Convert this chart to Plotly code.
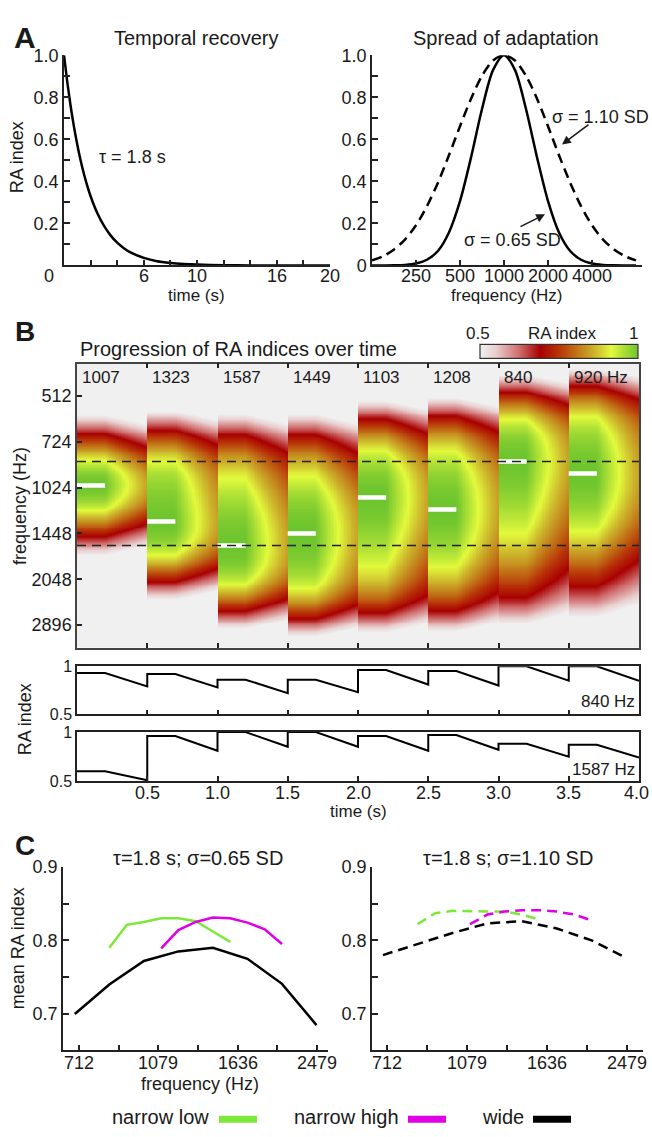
import numpy as np
import plotly.graph_objects as go

W, H = 652, 1137
FONT = "Liberation Sans, Arial, sans-serif"
INK = "#1a1a1a"
TICK = 18

# ---------------- Panel A data ----------------
rec_time = [0, 0.25, 0.5, 0.75, 1, 1.25, 1.5, 1.75, 2, 2.5, 3, 3.5, 4, 4.5, 5,
            6, 7, 8, 9, 10, 12, 14, 16, 18, 20]
rec_ra = [1.0, 0.871, 0.757, 0.659, 0.574, 0.499, 0.435, 0.378, 0.329, 0.249,
          0.189, 0.143, 0.108, 0.082, 0.062, 0.036, 0.020, 0.012, 0.007, 0.004,
          0.001, 0.0, 0.0, 0.0, 0.0]
rec_ticks = [6, 10, 16, 20]

spread_freq = [125, 149, 177, 210, 250, 297, 354, 420, 500, 595, 707, 841, 1000,
               1189, 1414, 1682, 2000, 2378, 2828, 3364, 4000, 4757, 5657, 6727, 8000]
spread_narrow = [0.0, 0.0001, 0.0006, 0.0025, 0.0088, 0.027, 0.070, 0.157, 0.306,
                 0.514, 0.744, 0.929, 1.0, 0.929, 0.744, 0.514, 0.306, 0.157,
                 0.070, 0.027, 0.0088, 0.0025, 0.0006, 0.0001, 0.0]
spread_wide = [0.024, 0.044, 0.076, 0.123, 0.191, 0.282, 0.395, 0.524, 0.662,
               0.793, 0.902, 0.975, 1.0, 0.975, 0.902, 0.793, 0.662, 0.524,
               0.395, 0.282, 0.191, 0.123, 0.076, 0.044, 0.024]
spread_ticks = [250, 500, 1000, 2000, 4000]

# ---------------- Panel B data ----------------
tone_onset = [0.0, 0.5, 1.0, 1.5, 2.0, 2.5, 3.0, 3.5]
tone_freq = [1007, 1323, 1587, 1449, 1103, 1208, 840, 920]
tone_label = ["1007", "1323", "1587", "1449", "1103", "1208", "840", "920 Hz"]
TONE_DUR = 0.2
TAU = 1.8
SIGMA_OCT = 0.65
probe_freq = [840, 1587]
freq_ticks = [512, 724, 1024, 1448, 2048, 2896]
time_ticks = [0.5, 1.0, 1.5, 2.0, 2.5, 3.0, 3.5, 4.0]

ra840_peak = [0.93, 0.92, 0.86, 0.86, 0.96, 0.95, 1.0, 1.0]
ra840_trough = [0.79, 0.78, 0.72, 0.73, 0.81, 0.80, 0.85, 0.85]
ra1587_peak = [0.60, 0.96, 1.0, 1.0, 0.96, 0.97, 0.88, 0.87]
ra1587_trough = [0.51, 0.81, 0.85, 0.85, 0.81, 0.82, 0.75, 0.74]

# ---------------- Panel C data ----------------
c_freq = [697, 763, 835, 915, 1001, 1096, 1199, 1313, 1437, 1573, 1722, 1885,
          2063, 2259, 2472]
c_ticks = [712, 877, 1079, 1329, 1636, 2014, 2479]
c_labels = [712, 1079, 1636, 2479]
wide_065 = [0.700, 0.740, 0.772, 0.785, 0.790, 0.775, 0.741, 0.685]
low_065 = [0.790, 0.821, 0.825, 0.830, 0.830, 0.826, 0.812, 0.798]
high_065 = [0.789, 0.814, 0.825, 0.831, 0.830, 0.824, 0.815, 0.795]
wide_110 = [0.780, 0.795, 0.810, 0.823, 0.826, 0.816, 0.800, 0.776]
low_110 = [0.822, 0.837, 0.840, 0.840, 0.840, 0.839, 0.835, 0.828]
high_110 = [0.822, 0.835, 0.839, 0.841, 0.841, 0.839, 0.835, 0.827]

GREEN = "#7ee83a"
MAGENTA = "#e000e6"


def fx(x):
    return x / W


def fy(y):
    return 1 - y / H


def dom_x(a, b):
    return [fx(a), fx(b)]


def dom_y(top, bottom):
    return [fy(bottom), fy(top)]


fig = go.Figure()

# ---------------- Panel A traces ----------------
fig.add_trace(go.Scatter(x=rec_time, y=rec_ra, mode="lines",
                         line=dict(color="black", width=2.5, shape="spline", smoothing=0.6),
                         xaxis="x", yaxis="y", showlegend=False, hoverinfo="skip"))
fig.add_trace(go.Scatter(x=spread_freq, y=spread_wide, mode="lines",
                         line=dict(color="black", width=2.5, dash="10px,6px", shape="spline", smoothing=0.8),
                         xaxis="x2", yaxis="y2", showlegend=False, hoverinfo="skip"))
fig.add_trace(go.Scatter(x=spread_freq, y=spread_narrow, mode="lines",
                         line=dict(color="black", width=2.5, shape="spline", smoothing=0.8),
                         xaxis="x2", yaxis="y2", showlegend=False, hoverinfo="skip"))

# ---------------- Panel B heatmap (RA model driven by the tone sequence) ----------------
dt = 0.01
t_grid = np.arange(0, 4, dt) + dt / 2
ly_lo, ly_hi = 8.646, 11.747
ly_grid = np.linspace(ly_lo, ly_hi, 300)
Z = np.zeros((len(ly_grid), len(t_grid)))
state = np.zeros(len(ly_grid))
for k, (t0, f0) in enumerate(zip(tone_onset, tone_freq)):
    if k > 0:
        gap = t0 - (tone_onset[k - 1] + TONE_DUR)
        state = state * np.exp(-gap / TAU)
    g = np.exp(-(ly_grid - np.log2(f0)) ** 2 / (2 * SIGMA_OCT ** 2))
    state = 1 - (1 - state) * (1 - g)
    t_end = tone_onset[k + 1] if k + 1 < len(tone_onset) else 4.0
    mask = (t_grid >= t0) & (t_grid < t_end)
    tt = t_grid[mask] - t0
    decay = np.exp(-np.clip(tt - TONE_DUR, 0, None) / TAU)
    Z[:, mask] = state[:, None] * decay[None, :]
Z = np.round(Z, 3)

colorscale = [
    [0.0, "#f0f0f0"], [0.1, "#e9cfcf"], [0.25, "#cf6c6c"], [0.38, "#a80000"],
    [0.5, "#b83408"], [0.62, "#c27818"], [0.73, "#cdb62c"], [0.83, "#e2fa3c"],
    [0.9, "#b2e236"], [1.0, "#6ec42e"],
]
fig.add_trace(go.Heatmap(
    x=t_grid, y=ly_grid, z=Z, zmin=0.5, zmax=1.0, colorscale=colorscale,
    xaxis="x3", yaxis="y3", hoverinfo="skip",
    colorbar=dict(orientation="h", x=fx(559), xanchor="center", y=fy(348), yanchor="middle",
                  len=158 / W, lenmode="fraction", thickness=14, thicknessmode="pixels",
                  outlinewidth=1.2, outlinecolor="#333", showticklabels=False, ticks="",
                  xpad=0, ypad=0),
))

# white tone bars
bx, by = [], []
for t0, f0 in zip(tone_onset, tone_freq):
    bx += [t0, t0 + TONE_DUR, None]
    by += [np.log2(f0), np.log2(f0), None]
fig.add_trace(go.Scatter(x=bx, y=by, mode="lines", line=dict(color="white", width=4.5),
                         xaxis="x3", yaxis="y3", showlegend=False, hoverinfo="skip"))
# probe frequency dashed lines
for pf in probe_freq:
    fig.add_trace(go.Scatter(x=[0, 4], y=[np.log2(pf)] * 2, mode="lines",
                             line=dict(color="#222", width=1.5, dash="9px,6px"),
                             xaxis="x3", yaxis="y3", showlegend=False, hoverinfo="skip"))


def sawtooth(peaks, troughs):
    xs, ys = [], []
    for t0, p, tr in zip(tone_onset, peaks, troughs):
        xs += [t0, t0 + TONE_DUR, t0 + 0.5]
        ys += [p, p, tr]
    return xs, ys


sx, sy = sawtooth(ra840_peak, ra840_trough)
fig.add_trace(go.Scatter(x=sx, y=sy, mode="lines", line=dict(color="black", width=2),
                         xaxis="x4", yaxis="y4", showlegend=False, hoverinfo="skip"))
sx, sy = sawtooth(ra1587_peak, ra1587_trough)
fig.add_trace(go.Scatter(x=sx, y=sy, mode="lines", line=dict(color="black", width=2),
                         xaxis="x5", yaxis="y5", showlegend=False, hoverinfo="skip"))


# ---------------- Panel C traces ----------------
def cline(xs, ys, color, dash, xa, ya):
    fig.add_trace(go.Scatter(x=xs, y=ys, mode="lines",
                             line=dict(color=color, width=2.5, dash=dash),
                             xaxis=xa, yaxis=ya, showlegend=False, hoverinfo="skip"))


cline(c_freq[0::2], wide_065, "black", "solid", "x6", "y6")
cline(c_freq[2:10], low_065, GREEN, "solid", "x6", "y6")
cline(c_freq[5:13], high_065, MAGENTA, "solid", "x6", "y6")
cline(c_freq[0::2], wide_110, "black", "10px,6px", "x7", "y7")
cline(c_freq[2:10], low_110, GREEN, "10px,6px", "x7", "y7")
cline(c_freq[5:13], high_110, MAGENTA, "10px,6px", "x7", "y7")

# ---------------- Axes ----------------
base = dict(showline=True, linecolor="#222", linewidth=1.5, ticks="inside", ticklen=6,
            tickwidth=1.5, tickcolor="#222", showgrid=False, zeroline=False,
            tickfont=dict(family=FONT, size=TICK, color=INK), fixedrange=True)
small_tick = dict(family=FONT, size=16, color=INK)


def ax(**kw):
    d = dict(base)
    d.update(kw)
    return d


lay = {}
# A left
lay["xaxis"] = ax(domain=dom_x(64, 330), range=[0, 20], anchor="y",
                  tickvals=list(range(2, 21, 2)), showticklabels=False)
lay["yaxis"] = ax(domain=dom_y(46, 260), range=[0, 1], anchor="x",
                  tickvals=[0.1 * i for i in range(1, 11)],
                  ticktext=["", "0.2", "", "0.4", "", "0.6", "", "0.8", "", "1.0"])
# A right
lay["xaxis2"] = ax(domain=dom_x(372, 642), type="log",
                   range=[np.log10(125), np.log10(8790)], anchor="y2",
                   tickvals=spread_ticks, showticklabels=False)
lay["yaxis2"] = ax(domain=dom_y(46, 260), range=[0, 1], anchor="x2",
                   tickvals=[0.1 * i for i in range(0, 11)],
                   ticktext=["0", "", "0.2", "", "0.4", "", "0.6", "", "0.8", "", "1.0"])
# B heatmap
lay["xaxis3"] = ax(domain=dom_x(77, 639), range=[0, 4], anchor="y3",
                   tickvals=[0.5 * i for i in range(1, 8)], showticklabels=False,
                   mirror="ticks", linecolor="#444", ticklen=5)
lay["yaxis3"] = ax(domain=dom_y(360, 649), range=[ly_hi, ly_lo], anchor="x3",
                   tickvals=[float(np.log2(f)) for f in freq_ticks],
                   ticktext=[str(f) for f in freq_ticks], mirror=True, linecolor="#444",
                   ticklen=5)
# B traces
lay["xaxis4"] = ax(domain=dom_x(77, 639), range=[0, 4], anchor="y4",
                   tickvals=time_ticks[:-1], showticklabels=False,
                   mirror=True, ticklen=5)
lay["yaxis4"] = ax(domain=dom_y(668, 717), range=[0.5, 1], anchor="x4",
                   tickvals=[0.5, 1], ticktext=["0.5", "1"], ticks="", mirror=True,
                   tickfont=small_tick)
lay["xaxis5"] = ax(domain=dom_x(77, 639), range=[0, 4], anchor="y5",
                   tickvals=time_ticks[:-1], showticklabels=False,
                   mirror=True, ticklen=5)
lay["yaxis5"] = ax(domain=dom_y(735, 785), range=[0.5, 1], anchor="x5",
                   tickvals=[0.5, 1], ticktext=["0.5", "1"], ticks="", mirror=True,
                   tickfont=small_tick)
# C
lay["xaxis6"] = ax(domain=dom_x(63, 328), type="log", range=[2.8164, 3.4192], anchor="y6",
                   tickvals=c_ticks, showticklabels=False)
lay["yaxis6"] = ax(domain=dom_y(872, 1059), range=[0.6507, 0.9], anchor="x6",
                   tickvals=[0.7, 0.75, 0.8, 0.85, 0.9], ticktext=["0.7", "", "0.8", "", "0.9"])
lay["xaxis7"] = ax(domain=dom_x(372, 643), type="log", range=[2.8186, 3.4305], anchor="y7",
                   tickvals=c_ticks, showticklabels=False)
lay["yaxis7"] = ax(domain=dom_y(872, 1059), range=[0.6507, 0.9], anchor="x7",
                   tickvals=[0.7, 0.75, 0.8, 0.85, 0.9], ticktext=["0.7", "", "0.8", "", "0.9"])

# ---------------- Annotations ----------------
ann = []


def txt(x, y, s, size=17, xanchor="center", angle=0, bold=False):
    ann.append(dict(x=fx(x), y=fy(y), xref="paper", yref="paper", text=(f"<b>{s}</b>" if bold else s),
                    showarrow=False, xanchor=xanchor, yanchor="middle", textangle=angle,
                    font=dict(family=FONT, size=size, color=INK)))


def xlabels(xref, vals, ypix, log=False, fmt=str, last_right=False):
    for i, v in enumerate(vals):
        anchor = "right" if (last_right and i == len(vals) - 1) else "center"
        ann.append(dict(x=(np.log10(v) if log else v), y=fy(ypix), xref=xref, yref="paper",
                        text=fmt(v), showarrow=False, xanchor=anchor, yanchor="middle",
                        xshift=(12 if anchor == "right" else 0),
                        font=dict(family=FONT, size=TICK, color=INK)))


def arrow(hx, hy, tx, ty):
    ann.append(dict(x=fx(hx), y=fy(hy), xref="paper", yref="paper", text="",
                    showarrow=True, ax=tx - hx, ay=ty - hy, arrowhead=2, arrowsize=1.1,
                    arrowwidth=1.6, arrowcolor=INK))


# panel letters
txt(25, 28, "A", size=30, bold=True)
txt(25, 327, "B", size=28, bold=True)
txt(25, 850, "C", size=28, bold=True)
# A
txt(197, 28, "Temporal recovery", size=20)
txt(506, 28, "Spread of adaptation", size=20)
txt(49, 271, "0", size=TICK)
xlabels("x", rec_ticks, 271)
xlabels("x2", spread_ticks, 271, log=True)
txt(197, 291, "time (s)", size=17)
txt(506, 291, "frequency (Hz)", size=17)
txt(17, 150, "RA index", size=18, angle=-90)
txt(132, 150, "τ = 1.8 s", size=18)
txt(600, 109, "σ = 1.10 SD", size=18)
txt(512, 234, "σ = 0.65 SD", size=18)
arrow(562, 137, 590, 116)
arrow(545, 208, 519, 221)
# B
txt(78, 345, "Progression of RA indices over time", size=20, xanchor="left")
txt(478, 329, "0.5", size=17)
txt(562, 329, "RA index", size=17)
txt(633, 329, "1", size=17)
for t0, lab in zip(tone_onset, tone_label):
    ann.append(dict(x=t0, y=fy(374), xref="x3", yref="paper", text=lab, showarrow=False,
                    xanchor="left", yanchor="middle", xshift=3,
                    font=dict(family=FONT, size=17, color=INK)))
txt(20, 505, "frequency (Hz)", size=18, angle=-90)
txt(25, 722, "RA index", size=18, angle=-90)
txt(637, 704, "840 Hz", size=17, xanchor="right")
txt(637, 773, "1587 Hz", size=17, xanchor="right")
xlabels("x5", time_ticks, 797, fmt=lambda v: f"{v:.1f}", last_right=True)
txt(358, 816, "time (s)", size=17)
# C
txt(198, 863, "τ=1.8 s; σ=0.65 SD", size=20)
txt(508, 863, "τ=1.8 s; σ=1.10 SD", size=20)
txt(18, 955, "mean RA index", size=18, angle=-90)
xlabels("x6", c_labels, 1072, log=True)
xlabels("x7", c_labels, 1072, log=True)
txt(200, 1093, "frequency (Hz)", size=18)
# legend
txt(211, 1127, "narrow low", size=20, xanchor="right")
txt(401, 1127, "narrow high", size=20, xanchor="right")
txt(526, 1127, "wide", size=20, xanchor="right")

shapes = []
for x0, x1, col in [(219, 257, GREEN), (408, 446, MAGENTA), (533, 571, "black")]:
    shapes.append(dict(type="line", xref="paper", yref="paper", x0=fx(x0), x1=fx(x1),
                       y0=fy(1129), y1=fy(1129), line=dict(color=col, width=7)))

fig.update_layout(
    width=W, height=H, margin=dict(l=0, r=0, t=0, b=0),
    paper_bgcolor="white", plot_bgcolor="white",
    font=dict(family=FONT, color=INK), showlegend=False,
    annotations=ann, shapes=shapes, **lay,
)

fig.write_html("out.html", config={"displayModeBar": False},
               post_script="document.body.style.margin='0';document.body.style.overflow='hidden';")
